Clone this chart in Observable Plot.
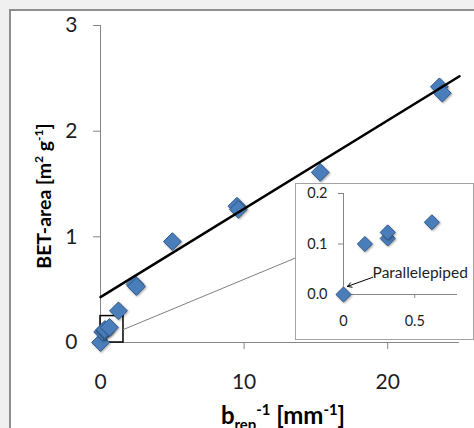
<!DOCTYPE html>
<html>
<head>
<meta charset="utf-8">
<script src="https://cdn.jsdelivr.net/npm/d3@7"></script>
<script src="https://cdn.jsdelivr.net/npm/@observablehq/plot@0.6"></script>
<style>
  html, body { margin: 0; padding: 0; background: #f0f0f0; }
  #wrap { position: relative; width: 474px; height: 428px; overflow: hidden; font-family: Lato, "Open Sans", sans-serif; }
  #frame { position: absolute; left: 9px; top: 9px; width: 500px; height: 460px; border: 2px solid #8e8e8e; background: #fff; }
  #main, #inset { position: absolute; }
  #main { left: 0; top: 0; }
  #insetBox { position: absolute; left: 295px; top: 183px; width: 177px; height: 155px; border: 1.5px solid #a3a3a3; background: #fff; }
  .lbl { position: absolute; font-weight: bold; color: #000; white-space: nowrap; line-height: 1; }
  .lbl sup, .lbl sub { font-size: 0.62em; }
  #ylab { left: 43px; top: 196px; font-size: 19.5px; transform: translate(-50%, -50%) rotate(-90deg); }
  #xlab { left: 283px; top: 402px; font-size: 24px; transform: translateX(-50%); }
  svg g[aria-label="dot"] path { filter: drop-shadow(1px 1px 0.8px rgba(0,0,0,0.35)); }
</style>
</head>
<body>
<div id="wrap">
  <div id="frame"></div>
  <div id="main"></div>
  <div id="insetBox"><div id="inset"></div></div>
  <div class="lbl" id="ylab">BET-area [m<sup>2</sup> g<sup>-1</sup>]</div>
  <div class="lbl" id="xlab">b<sub>rep</sub><sup>-1</sup> [mm<sup>-1</sup>]</div>
</div>
<script>
// Measured samples: reciprocal representative size vs. BET surface area
const bInv = [0, 0.15, 0.31, 0.31, 0.62, 1.25, 2.4, 2.5, 5.0, 9.5, 9.6, 15.3, 23.6, 23.8];
const betArea = [0, 0.10, 0.111, 0.123, 0.143, 0.30, 0.55, 0.53, 0.955, 1.29, 1.26, 1.61, 2.42, 2.36];

// Linear trend line end points
const fitX = [0, 25];
const fitY = [0.43, 2.52];

// Zoomed region marked on the main chart and its leader line to the inset
const zoomX = [0, 1.6];
const zoomY = [0, 0.25];
const leaderX = [1.6, 13.65];
const leaderY = [0.123, 0.804];

// Tick values
const mainXTicks = [0, 10, 20];
const mainYTicks = [0, 1, 2, 3];
const insetXTicks = [0, 0.5];
const insetYTicks = [0, 0.1, 0.2];

// Annotation in the inset
const noteText = ["Parallelepiped"];
const noteFrom = [0.204, 0.034];
const noteTo = [0.028, 0.016];
const noteAt = [0.204, 0.043];

const points = bInv.map((x, i) => ({x, y: betArea[i]}));
const insetPoints = points.filter(d => d.x < 0.8);

const diamondFill = "#4a7ebb";
const diamondStroke = "#31598a";
const axisGray = "#868686";
const textColor = "#1e1e1e";

const main = Plot.plot({
  width: 474,
  height: 428,
  marginLeft: 100,
  marginRight: 15,
  marginTop: 25,
  marginBottom: 86,
  x: {domain: [0, 25]},
  y: {domain: [0, 3]},
  style: {background: "transparent", fontFamily: "Lato, 'Open Sans', sans-serif", overflow: "visible"},
  marks: [
    Plot.ruleX([0], {y1: 0, y2: 3, stroke: axisGray, strokeWidth: 1}),
    Plot.ruleY([0], {x1: 0, x2: 25, stroke: axisGray, strokeWidth: 1}),
    Plot.axisY({ticks: mainYTicks, tickSize: 7, tickPadding: 16, fontSize: 21, label: null, stroke: axisGray, fill: textColor, tickFormat: d => d}),
    Plot.axisX({ticks: mainXTicks, tickSize: 7, tickPadding: 25, fontSize: 21, label: null, stroke: axisGray, fill: textColor, tickFormat: d => d}),
    Plot.rect([{x1: zoomX[0], x2: zoomX[1], y1: zoomY[0], y2: zoomY[1]}], {x1: "x1", x2: "x2", y1: "y1", y2: "y2", fill: "none", stroke: "#000", strokeWidth: 1.5}),
    Plot.line(leaderX, {x: leaderX, y: leaderY, stroke: "#808080", strokeWidth: 1}),
    Plot.dot(points, {x: "x", y: "y", symbol: "diamond2", r: 8, fill: diamondFill, stroke: diamondStroke, strokeWidth: 1}),
    Plot.line(fitX, {x: fitX, y: fitY, stroke: "#000", strokeWidth: 2.5})
  ]
});
document.getElementById("main").appendChild(main);

const inset = Plot.plot({
  width: 177,
  height: 155,
  marginLeft: 47,
  marginRight: 16,
  marginTop: 9,
  marginBottom: 45,
  x: {domain: [0, 0.8]},
  y: {domain: [0, 0.2]},
  style: {background: "#fff", fontFamily: "Lato, 'Open Sans', sans-serif", overflow: "visible"},
  marks: [
    Plot.ruleX([0], {y1: 0, y2: 0.2, stroke: axisGray, strokeWidth: 1}),
    Plot.ruleY([0], {x1: 0, x2: 0.8, stroke: axisGray, strokeWidth: 1}),
    Plot.axisY({ticks: insetYTicks, tickSize: 5, tickPadding: 11, fontSize: 14.5, label: null, stroke: axisGray, fill: textColor, tickFormat: d3.format(".1f")}),
    Plot.axisX({ticks: insetXTicks, tickSize: 4, tickPadding: 17, fontSize: 14.5, label: null, stroke: axisGray, fill: textColor, tickFormat: d => d}),
    Plot.dot(insetPoints, {x: "x", y: "y", symbol: "diamond2", r: 6.8, fill: diamondFill, stroke: diamondStroke, strokeWidth: 1}),
    Plot.arrow(noteText, {x1: noteFrom[0], y1: noteFrom[1], x2: noteTo[0], y2: noteTo[1], stroke: "#000", strokeWidth: 1, headLength: 7, bend: 0}),
    Plot.text(noteText, {x: noteAt[0], y: noteAt[1], text: d => d, textAnchor: "start", fontSize: 15.5, fill: textColor})
  ]
});
document.getElementById("inset").appendChild(inset);
</script>
</body>
</html>
